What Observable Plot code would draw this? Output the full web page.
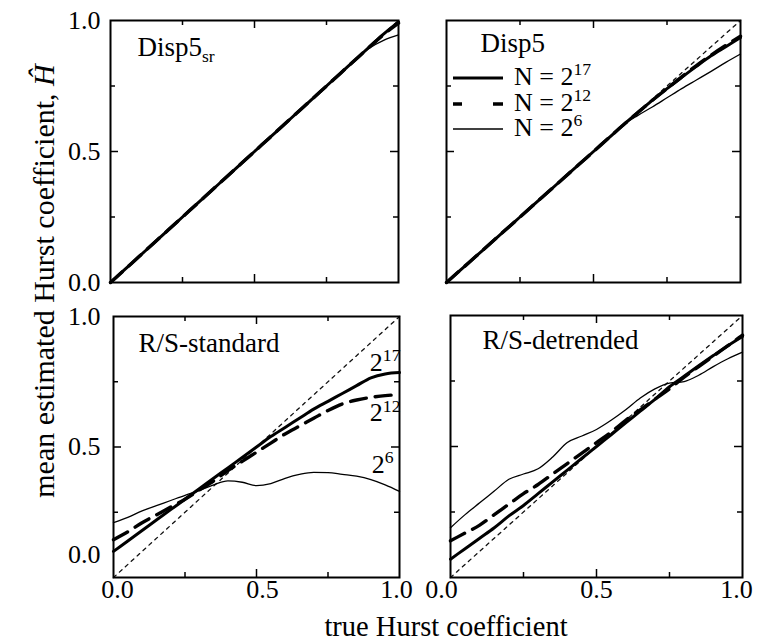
<!DOCTYPE html>
<html><head><meta charset="utf-8">
<script src="https://cdn.jsdelivr.net/npm/d3@7"></script>
<script src="https://cdn.jsdelivr.net/npm/@observablehq/plot@0.6"></script>
<style>
body{margin:0;background:#fff;}
#chart{position:relative;width:765px;height:642px;overflow:hidden;font-family:"Liberation Serif","Times New Roman",serif;background:#fff;}
#chart > svg{position:absolute;}
</style></head><body><div id="chart"></div>
<script>
// ---------- data ----------
const trueH = [0,0.05,0.1,0.15,0.2,0.25,0.3,0.35,0.4,0.45,0.5,0.55,0.6,0.65,0.7,0.75,0.8,0.85,0.9,0.95,1.0];
const panelTitles = ["Disp5_{sr}", "Disp5", "R/S-standard", "R/S-detrended"];
const seriesNames = ["N = 2^{17}", "N = 2^{12}", "N = 2^{6}"];
const seriesShort = ["2^{17}", "2^{12}", "2^{6}"];

const disp5sr_N17 = [0,0.05,0.1,0.15,0.2,0.25,0.3,0.35,0.4,0.45,0.5,0.55,0.6,0.65,0.7,0.75,0.8,0.85,0.9,0.95,0.995];
const disp5sr_N12 = [0,0.05,0.1,0.15,0.2,0.25,0.3,0.35,0.4,0.45,0.5,0.55,0.6,0.65,0.7,0.75,0.8,0.85,0.9,0.948,0.99];
const disp5sr_N6  = [0,0.05,0.1,0.15,0.2,0.25,0.3,0.35,0.4,0.45,0.5,0.55,0.6,0.65,0.7,0.75,0.8,0.85,0.895,0.925,0.945];

const disp5_N17 = [0,0.05,0.1,0.15,0.2,0.25,0.3,0.35,0.4,0.45,0.5,0.55,0.6,0.648,0.695,0.74,0.783,0.825,0.865,0.9,0.935];
const disp5_N12 = [0,0.05,0.1,0.15,0.2,0.25,0.3,0.35,0.4,0.45,0.5,0.55,0.6,0.648,0.695,0.74,0.785,0.828,0.868,0.905,0.94];
const disp5_N6  = [0,0.05,0.1,0.15,0.2,0.25,0.3,0.35,0.4,0.45,0.5,0.55,0.6,0.637,0.67,0.705,0.74,0.773,0.806,0.84,0.872];

const rsStd_N17 = [0.10,0.14,0.18,0.22,0.26,0.30,0.34,0.38,0.42,0.46,0.50,0.54,0.575,0.61,0.645,0.675,0.705,0.735,0.765,0.78,0.785];
const rsStd_N12 = [0.145,0.175,0.21,0.24,0.27,0.30,0.335,0.37,0.41,0.445,0.48,0.515,0.55,0.58,0.61,0.64,0.665,0.68,0.69,0.697,0.70];
const rsStd_N6  = [0.21,0.23,0.255,0.275,0.295,0.315,0.333,0.355,0.37,0.365,0.352,0.36,0.38,0.395,0.403,0.402,0.395,0.388,0.375,0.355,0.33];

const rsDet_N17 = [0.07,0.11,0.15,0.19,0.235,0.275,0.32,0.365,0.41,0.455,0.50,0.545,0.59,0.635,0.68,0.728,0.768,0.808,0.847,0.885,0.92];
const rsDet_N12 = [0.14,0.17,0.20,0.24,0.28,0.32,0.355,0.395,0.435,0.475,0.515,0.555,0.60,0.64,0.68,0.72,0.765,0.805,0.845,0.885,0.925];
const rsDet_N6  = [0.19,0.24,0.285,0.33,0.375,0.395,0.415,0.46,0.515,0.54,0.565,0.60,0.64,0.685,0.72,0.742,0.748,0.772,0.805,0.835,0.86];

const diagonal = [0, 1];
const majorTicks = [0.5];
const minorTicks = [0.25, 0.75];
const tickLabels = [0, 0.5, 1];
const xLabel = "true Hurst coefficient";
const yLabel = "mean estimated Hurst coefficient, ";
const yLabelSymbol = "Ĥ";

// ---------- styles ----------
const FONT = "'Liberation Serif','Times New Roman',serif";
const seriesStyle = [
  {strokeWidth: 3, dash: null},
  {strokeWidth: 3.4, dash: "16,9"},
  {strokeWidth: 1.3, dash: null}
];

function richText(svg) {
  d3.select(svg).selectAll("text").each(function () {
    const s = this.textContent;
    if (!/[\^_]\{/.test(s)) return;
    const fs = parseFloat(getComputedStyle(this).fontSize) || 26;
    const el = d3.select(this);
    el.text(null);
    const re = /([\^_])\{([^}]*)\}/g;
    let last = 0, m, shift = 0;
    while ((m = re.exec(s))) {
      if (m.index > last) {
        el.append("tspan").attr("dy", -shift).text(s.slice(last, m.index));
        shift = 0;
      }
      const d = m[1] === "^" ? -0.37 * fs : 0.22 * fs;
      el.append("tspan").attr("dy", d - shift).attr("font-size", (m[1] === "^" ? 0.68 : 0.65) * fs).text(m[2]);
      shift = d;
      last = re.lastIndex;
    }
    if (last < s.length) el.append("tspan").attr("dy", -shift).text(s.slice(last));
  });
}

const chart = document.getElementById("chart");

function panel(cfg) {
  const fw = cfg.x1 - cfg.x0, fh = cfg.y1 - cfg.y0;
  const mL = cfg.x0 - cfg.left, mT = cfg.y0 - cfg.top, mR = 20, mB = cfg.mB;
  const rows = [];
  cfg.values.forEach((vals, si) => vals.forEach((v, i) => rows.push({s: si, x: trueH[i], y: v})));
  const lineMarks = [2, 1, 0].map(si => Plot.line(rows.filter(r => r.s === si), {
    x: "x", y: "y", stroke: "#000", strokeWidth: seriesStyle[si].strokeWidth,
    strokeDasharray: seriesStyle[si].dash, curve: "monotone-x"
  }));
  const marks = [
    Plot.line(diagonal, {x: d => d, y: d => d, stroke: "#111", strokeWidth: 1.3, strokeDasharray: "3.5,4.5"}),
    ...lineMarks,
    Plot.frame({stroke: "#000", strokeWidth: 2}),
    Plot.tickX(majorTicks, {x: d => d, insetTop: fh - 8, strokeWidth: 1.5}),
    Plot.tickX(minorTicks, {x: d => d, insetTop: fh - 5, strokeWidth: 1.5}),
    Plot.tickX(majorTicks, {x: d => d, insetBottom: fh - 8, strokeWidth: 1.5}),
    Plot.tickX(minorTicks, {x: d => d, insetBottom: fh - 5, strokeWidth: 1.5}),
    Plot.tickY(majorTicks, {y: d => d, insetRight: fw - 8, strokeWidth: 1.5}),
    Plot.tickY(minorTicks, {y: d => d, insetRight: fw - 5, strokeWidth: 1.5}),
    Plot.tickY(majorTicks, {y: d => d, insetLeft: fw - 8, strokeWidth: 1.5}),
    Plot.tickY(minorTicks, {y: d => d, insetLeft: fw - 5, strokeWidth: 1.5}),
    Plot.text([cfg.title], {text: d => d, frameAnchor: "top-left", dx: cfg.tdx, dy: cfg.tdy,
      lineAnchor: "top", textAnchor: "start", fontSize: 27})
  ];
  if (cfg.yAxis) {
    const shifted = cfg.shiftZero;
    marks.push(Plot.axisY(shifted ? tickLabels.filter(t => t !== 0) : tickLabels,
      {anchor: "left", tickSize: 0, tickPadding: cfg.yPad, tickFormat: d3.format(".1f"), label: null, fontSize: 26}));
    if (shifted) marks.push(Plot.axisY([0], {anchor: "left", tickSize: 0, tickPadding: cfg.yPad,
      tickFormat: d3.format(".1f"), label: null, fontSize: 26, dy: -23}));
  }
  if (cfg.xAxis) {
    tickLabels.forEach((t, i) => {
      marks.push(Plot.axisX([t], {anchor: "bottom", tickSize: 0, tickPadding: 2,
        tickFormat: d3.format(".1f"), label: null, fontSize: 26, dx: cfg.xDx[i]}));
    });
  }
  if (cfg.lineLabels) {
    cfg.lineLabels.forEach(ll => {
      marks.push(Plot.text(rows.filter(r => r.s === ll.s), Plot.selectLast({
        x: "x", y: "y", text: () => seriesShort[ll.s], textAnchor: "end", lineAnchor: "top",
        dx: ll.dx, dy: ll.dy, fontSize: 26
      })));
    });
  }
  const svg = Plot.plot({
    width: mL + fw + mR, height: mT + fh + mB,
    marginLeft: mL, marginTop: mT, marginRight: mR, marginBottom: mB,
    x: {domain: [0, 1], axis: null},
    y: {domain: [0, 1], axis: null},
    style: {fontFamily: FONT, fontSize: "26px", background: "transparent", color: "#000", overflow: "visible"},
    marks
  });
  svg.style.left = cfg.left + "px";
  svg.style.top = cfg.top + "px";
  chart.appendChild(svg);
  if (cfg.legend) {
    const g = d3.select(svg).append("g").attr("font-family", FONT).attr("font-size", 26)
      .attr("text-anchor", "start");
    const rowsY = [58, 84, 109];
    seriesNames.forEach((name, i) => {
      const y = mT + rowsY[i];
      g.append("line").attr("x1", mL + 7).attr("x2", mL + 57).attr("y1", y).attr("y2", y)
        .attr("stroke", "#000").attr("stroke-width", seriesStyle[i].strokeWidth)
        .attr("stroke-dasharray", i === 1 ? "9,31,10" : null);
      g.append("text").attr("x", mL + 68).attr("y", y + 7).attr("fill", "#000")
        .attr("text-anchor", "start").text(name);
    });
  }
  richText(svg);
}

panel({title: panelTitles[0], values: [disp5sr_N17, disp5sr_N12, disp5sr_N6], left: 0, top: 0,
  x0: 110, x1: 398, y0: 20, y1: 282, mB: 6, tdx: 27, tdy: 16, yAxis: true, yPad: 10});
panel({title: panelTitles[1], values: [disp5_N17, disp5_N12, disp5_N6], left: 420, top: 0,
  x0: 446, x1: 740, y0: 20, y1: 282, mB: 6, tdx: 34, tdy: 12, legend: true});
panel({title: panelTitles[2], values: [rsStd_N17, rsStd_N12, rsStd_N6], left: 0, top: 296,
  x0: 113, x1: 399, y0: 316, y1: 577, mB: 33, tdx: 25, tdy: 16, yAxis: true, yPad: 13, shiftZero: true,
  xAxis: true, xDx: [4, 6, -3],
  lineLabels: [{s: 0, dx: 1, dy: -20}, {s: 1, dx: 1, dy: 8}, {s: 2, dx: -6, dy: -37}]});
panel({title: panelTitles[3], values: [rsDet_N17, rsDet_N12, rsDet_N6], left: 420, top: 296,
  x0: 450, x1: 742, y0: 315, y1: 577, mB: 33, tdx: 32, tdy: 14, xAxis: true, xDx: [-9, 0, -6]});

// axis titles overlay
const ov = d3.select(chart).append("svg").attr("width", 765).attr("height", 642)
  .style("left", "0px").style("top", "0px").style("pointer-events", "none")
  .attr("font-family", FONT).attr("fill", "#000");
const yl = ov.append("text").attr("transform", "translate(54,281) rotate(-90)")
  .attr("text-anchor", "middle").attr("font-size", 30);
yl.append("tspan").text(yLabel);
yl.append("tspan").attr("font-style", "italic").text(yLabelSymbol);
ov.append("text").attr("x", 446).attr("y", 636).attr("text-anchor", "middle")
  .attr("font-size", 28.5).text(xLabel);
</script></body></html>
